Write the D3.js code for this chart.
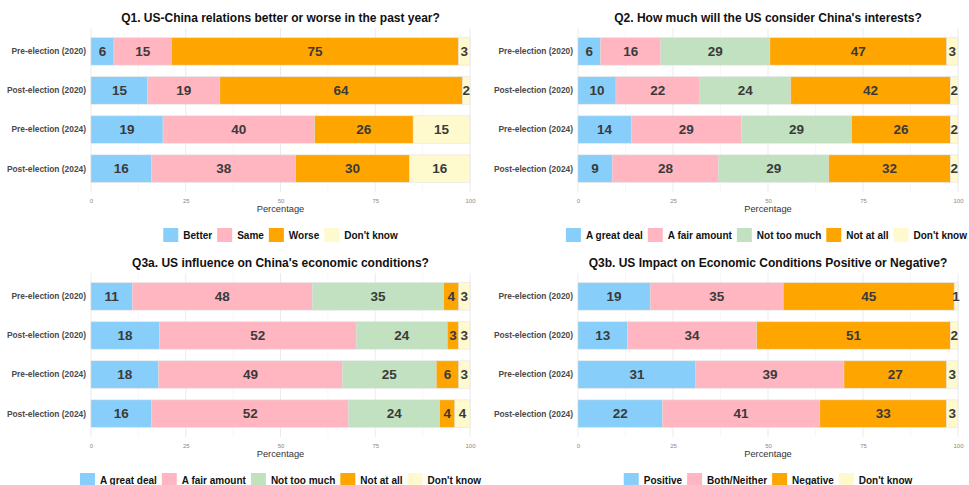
<!DOCTYPE html>
<html>
<head>
<meta charset="utf-8">
<script src="https://cdn.jsdelivr.net/npm/d3@7"></script>
<style>
  html, body { margin: 0; padding: 0; background: #fff; }
  svg { display: block; font-family: "Liberation Sans", Arial, Helvetica, sans-serif; }
</style>
</head>
<body>
<svg id="chart" width="969" height="485"></svg>
<script>
// ---------------- DATA ----------------
const rowLabels = ["Pre-election (2020)", "Post-election (2020)", "Pre-election (2024)", "Post-election (2024)"];
const xTicks = [0, 25, 50, 75, 100];

const q1Title = "Q1. US-China relations better or worse in the past year?";
const q1Categories = ["Better", "Same", "Worse", "Don't know"];
const q1Values = [
  [6, 15, 75, 3],
  [15, 19, 64, 2],
  [19, 40, 26, 15],
  [16, 38, 30, 16]
];

const q2Title = "Q2. How much will the US consider China's interests?";
const q2Categories = ["A great deal", "A fair amount", "Not too much", "Not at all", "Don't know"];
const q2Values = [
  [6, 16, 29, 47, 3],
  [10, 22, 24, 42, 2],
  [14, 29, 29, 26, 2],
  [9, 28, 29, 32, 2]
];

const q3aTitle = "Q3a. US influence on China's economic conditions?";
const q3aCategories = ["A great deal", "A fair amount", "Not too much", "Not at all", "Don't know"];
const q3aValues = [
  [11, 48, 35, 4, 3],
  [18, 52, 24, 3, 3],
  [18, 49, 25, 6, 3],
  [16, 52, 24, 4, 4]
];

const q3bTitle = "Q3b. US Impact on Economic Conditions Positive or Negative?";
const q3bCategories = ["Positive", "Both/Neither", "Negative", "Don't know"];
const q3bValues = [
  [19, 35, 45, 1],
  [13, 34, 51, 2],
  [31, 39, 27, 3],
  [22, 41, 33, 3]
];

// ---------------- STYLE ----------------
const palette4 = ["#87CEFA", "#FFB6C1", "#FFA500", "#FFFACD"];
const palette5 = ["#87CEFA", "#FFB6C1", "#C1E1C1", "#FFA500", "#FFFACD"];

const panels = [
  { title: q1Title, cats: q1Categories, values: q1Values, colors: palette4, x0: 91,  x1: 470, yOff: 0 },
  { title: q2Title, cats: q2Categories, values: q2Values, colors: palette5, x0: 578, x1: 958, yOff: 0 },
  { title: q3aTitle, cats: q3aCategories, values: q3aValues, colors: palette5, x0: 91,  x1: 470, yOff: 245 },
  { title: q3bTitle, cats: q3bCategories, values: q3bValues, colors: palette4, x0: 578, x1: 958, yOff: 245 }
];

const svg = d3.select("#chart");
svg.append("rect").attr("width", 969).attr("height", 485).attr("fill", "#fff");

panels.forEach(p => {
  const g = svg.append("g").attr("transform", `translate(0,${p.yOff})`);
  const x = d3.scaleLinear().domain([0, 100]).range([p.x0, p.x1]);
  const y = d3.scaleBand().domain(rowLabels).range([28, 192]).paddingInner(0.3).paddingOuter(0.25);
  const cx = (p.x0 + p.x1) / 2;

  // grid lines (minor + major)
  const minor = d3.range(12.5, 100, 25);
  g.append("g").selectAll("line").data(minor).join("line")
    .attr("x1", d => x(d)).attr("x2", d => x(d))
    .attr("y1", 28).attr("y2", 192)
    .attr("stroke", "#f2f2f2").attr("stroke-width", 0.6);
  g.append("g").selectAll("line").data(xTicks).join("line")
    .attr("x1", d => x(d)).attr("x2", d => x(d))
    .attr("y1", 28).attr("y2", 192)
    .attr("stroke", "#ebebeb").attr("stroke-width", 1);

  // title
  g.append("text").attr("x", cx).attr("y", 22)
    .attr("text-anchor", "middle").attr("font-weight", "bold")
    .attr("font-size", 12).attr("fill", "#111").text(p.title);

  // stacked bars
  p.values.forEach((row, i) => {
    const total = d3.sum(row);
    let acc = 0;
    const segs = row.map((v, j) => {
      const s = { v, j, start: acc / total * 100, end: (acc + v) / total * 100 };
      acc += v;
      return s;
    });
    const rg = g.append("g");
    rg.selectAll("rect").data(segs).join("rect")
      .attr("x", d => x(d.start))
      .attr("width", d => x(d.end) - x(d.start))
      .attr("y", y(rowLabels[i]))
      .attr("height", y.bandwidth())
      .attr("fill", d => p.colors[d.j])
      .attr("stroke", "#dcdcdc").attr("stroke-width", 0.5);
    rg.selectAll("text").data(segs).join("text")
      .attr("x", d => x((d.start + d.end) / 2))
      .attr("y", y(rowLabels[i]) + y.bandwidth() / 2)
      .attr("dy", "0.36em")
      .attr("text-anchor", "middle")
      .attr("font-weight", "bold").attr("font-size", 13.5)
      .attr("fill", "#3a3a3a")
      .text(d => d.v);
  });

  // y labels
  g.append("g").selectAll("text").data(rowLabels).join("text")
    .attr("x", p.x0 - 5)
    .attr("y", d => y(d) + y.bandwidth() / 2)
    .attr("dy", "0.35em")
    .attr("text-anchor", "end")
    .attr("font-weight", "bold").attr("font-size", 8.4)
    .attr("fill", "#4a4a4a")
    .text(d => d);

  // x axis
  const ax = g.append("g").attr("transform", "translate(0,196)")
    .call(d3.axisBottom(x).tickValues(xTicks).tickSize(0).tickPadding(3));
  ax.select(".domain").remove();
  ax.selectAll("text").attr("font-size", 6).attr("fill", "#888")
    .attr("font-family", "'Liberation Sans', Arial, sans-serif");

  g.append("text").attr("x", cx).attr("y", 211.5)
    .attr("text-anchor", "middle").attr("font-size", 9.3).attr("fill", "#333")
    .text("Percentage");

  // legend
  const keyW = 15, keyGap = 5, itemGap = 5;
  const lg = g.append("g");
  const items = lg.selectAll("g").data(p.cats).join("g");
  items.append("rect").attr("width", keyW).attr("height", 14).attr("y", 228)
    .attr("fill", (d, j) => p.colors[j]);
  items.append("text").attr("y", 235).attr("dy", "0.36em")
    .attr("font-weight", "bold").attr("font-size", 10).attr("fill", "#111")
    .text(d => d);
  const widths = [];
  items.each(function () {
    widths.push(d3.select(this).select("text").node().getComputedTextLength());
  });
  const total = d3.sum(widths) + p.cats.length * (keyW + keyGap) + (p.cats.length - 1) * itemGap;
  let start = Math.min(cx - total / 2, 967 - total);
  items.each(function (d, j) {
    const it = d3.select(this);
    it.select("rect").attr("x", start);
    it.select("text").attr("x", start + keyW + keyGap);
    start += keyW + keyGap + widths[j] + itemGap;
  });
});
</script>
</body>
</html>
